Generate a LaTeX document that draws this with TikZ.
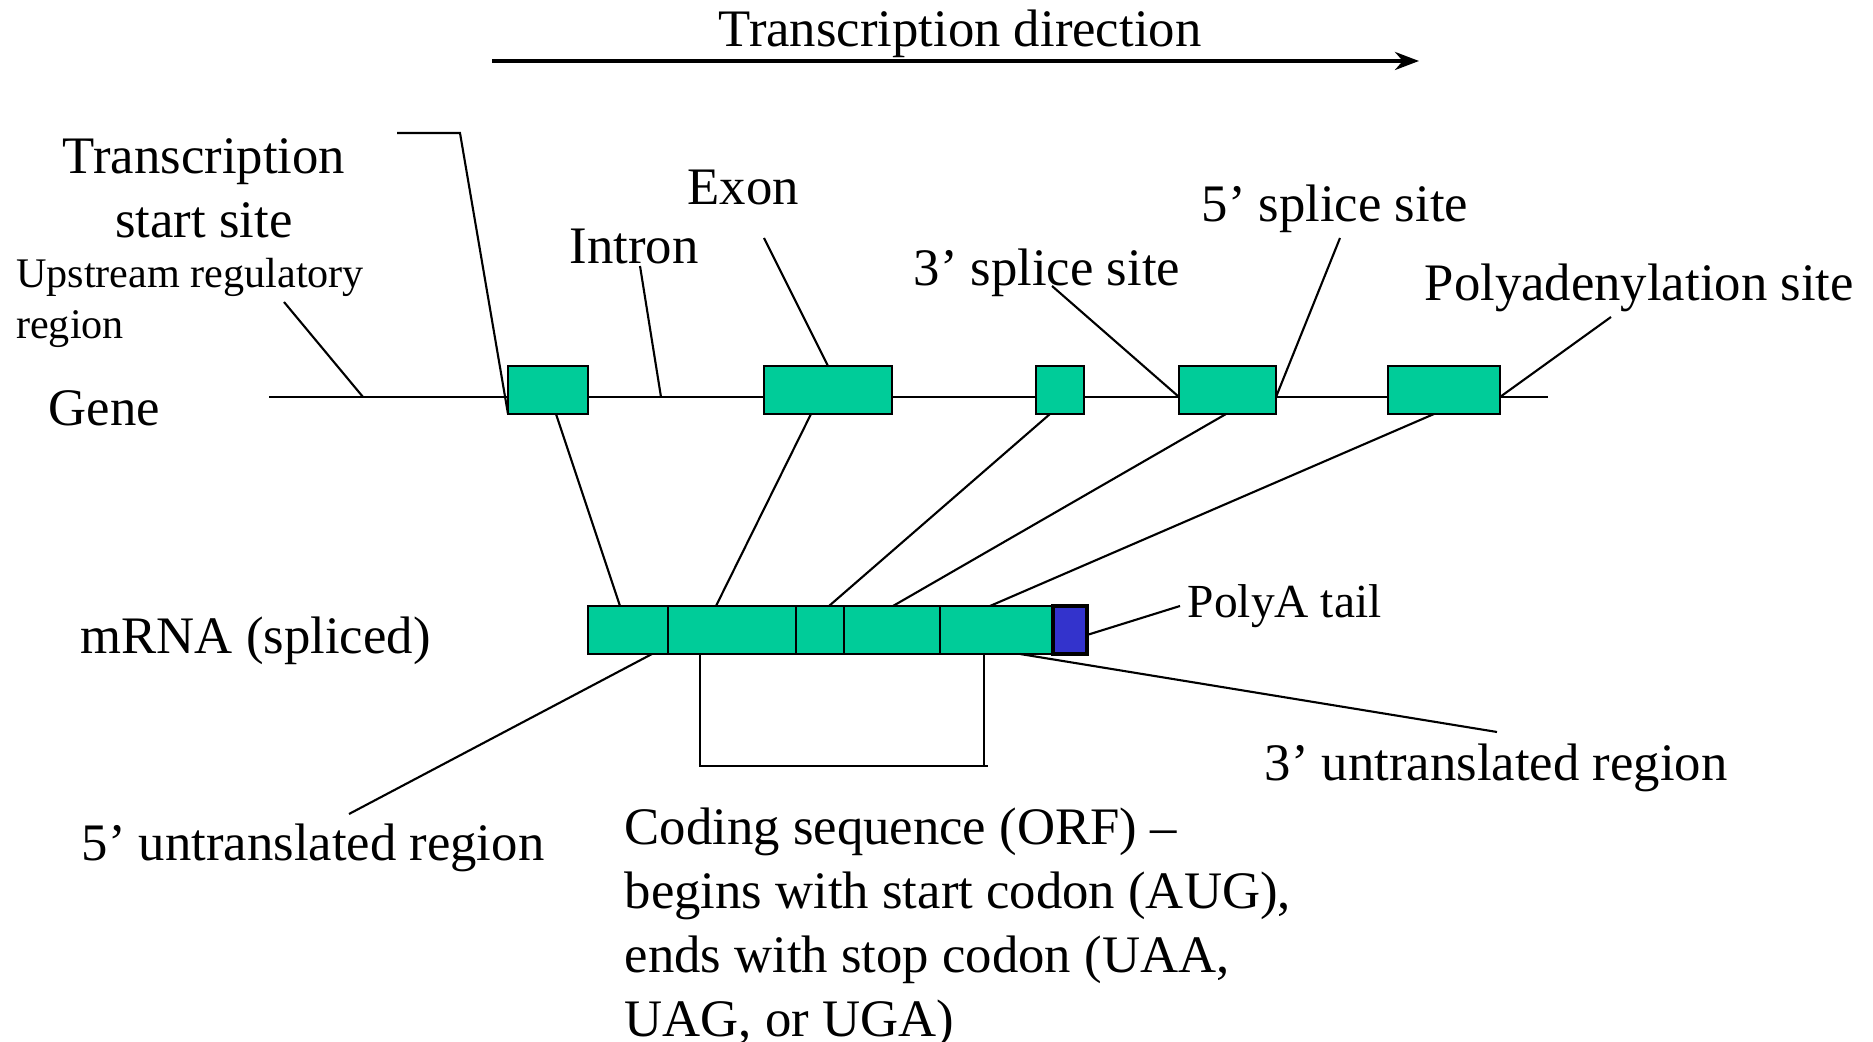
\documentclass[tikz,border=0pt]{standalone}
\usepackage{fontspec}
\setmainfont{Liberation Serif}
\usetikzlibrary{arrows.meta}
\definecolor{exongreen}{RGB}{0,204,153}
\definecolor{tailblue}{RGB}{51,51,204}
\tikzset{
  exonbox/.style={draw, fill=exongreen, line width=0.8pt, minimum height=0.48cm, inner sep=0pt, outer sep=0pt, anchor=south west},
  lbl/.style={inner sep=0pt, anchor=base west, font=\fontsize{15}{18}\selectfont},
  lead/.style={line width=0.6pt}
}
\begin{document}
\begin{tikzpicture}
\useasboundingbox (0,0) rectangle (18.73,10.42);

% Transcription direction arrow
\node[lbl, anchor=base] (dirtext) at (9.60, 9.955) {Transcription direction};
\coordinate (dirstart) at (4.92, 9.81);
\coordinate (dirend) at (14.19, 9.81);
\draw[line width=1.1pt, -{Stealth[length=2.4mm, width=1.8mm]}] (dirstart) -- (dirend);

% Gene line with the exons
\coordinate (gstart) at (2.69, 6.45);
\coordinate (gend) at (15.48, 6.45);
\draw[line width=0.8pt] (gstart) -- (gend);
\node[exonbox, minimum width=0.80cm] (g1) at (5.08, 6.28) {};
\node[exonbox, minimum width=1.28cm] (g2) at (7.64, 6.28) {};
\node[exonbox, minimum width=0.48cm] (g3) at (10.36, 6.28) {};
\node[exonbox, minimum width=0.97cm] (g4) at (11.79, 6.28) {};
\node[exonbox, minimum width=1.12cm] (g5) at (13.88, 6.28) {};

% Spliced mRNA
\node[exonbox, minimum width=0.80cm] (m1) at (5.88, 3.88) {};
\node[exonbox, minimum width=1.28cm] (m2) at (m1.south east) {};
\node[exonbox, minimum width=0.48cm] (m3) at (m2.south east) {};
\node[exonbox, minimum width=0.96cm] (m4) at (m3.south east) {};
\node[exonbox, minimum width=1.12cm] (m5) at (m4.south east) {};
\node[exonbox, fill=tailblue, line width=1pt, minimum width=0.34cm] (tail) at ([xshift=0.01cm]m5.south east) {};

% Exons to mRNA
\draw[lead] ([xshift=0.48cm]g1.south west) -- ([xshift=0.32cm]m1.north west);
\draw[lead] ([xshift=0.47cm]g2.south west) -- ([xshift=0.48cm]m2.north west);
\draw[lead] ([xshift=0.14cm]g3.south west) -- ([xshift=0.33cm]m3.north west);
\draw[lead] ([xshift=0.47cm]g4.south west) -- ([xshift=0.49cm]m4.north west);
\draw[lead] ([xshift=0.46cm]g5.south west) -- ([xshift=0.50cm]m5.north west);

% Labels of the gene
\node[lbl] (genelbl) at (0.48, 6.165) {Gene};
\node[lbl, font=\fontsize{12}{14}\selectfont] (up1) at (0.155, 7.545) {Upstream regulatory};
\node[lbl, font=\fontsize{12}{14}\selectfont] (up2) at (0.155, 7.035) {region};
\coordinate (uppt) at (2.84, 7.40);
\coordinate (upend) at (3.63, 6.45);
\draw[lead] (uppt) -- (upend);
\node[lbl, anchor=base] (tss1) at (2.04, 8.685) {Transcription};
\node[lbl, anchor=base] (tss2) at (2.04, 8.045) {start site};
\coordinate (tsspt) at (3.97, 9.09);
\draw[lead] (tsspt) -- ++(0.63, 0) -- (g1.south west);
\node[lbl] (intronlbl) at (5.69, 7.785) {Intron};
\coordinate (intronpt) at (6.40, 7.76);
\coordinate (intronend) at (6.61, 6.45);
\draw[lead] (intronpt) -- (intronend);
\node[lbl] (exonlbl) at (6.87, 8.375) {Exon};
\coordinate (exonpt) at (7.64, 8.04);
\draw[lead] (exonpt) -- (g2.north);
\node[lbl] (ss3lbl) at (9.13, 7.565) {3’ splice site};
\coordinate (ss3pt) at (10.52, 7.56);
\draw[lead] (ss3pt) -- ([yshift=0.17cm]g4.south west);
\node[lbl] (ss5lbl) at (12.01, 8.205) {5’ splice site};
\coordinate (ss5pt) at (13.40, 8.04);
\draw[lead] (ss5pt) -- ([yshift=0.17cm]g4.south east);
\node[lbl] (polylbl) at (14.24, 7.415) {Polyadenylation site};
\coordinate (polypt) at (16.11, 7.25);
\draw[lead] (polypt) -- ([yshift=0.17cm]g5.south east);

% Labels of the mRNA
\node[lbl] (mrnalbl) at (0.80, 3.885) {mRNA (spliced)};
\node[lbl, font=\fontsize{13.5}{16}\selectfont] (taillbl) at (11.87, 4.245) {PolyA tail};
\coordinate (tailpt) at (11.80, 4.36);
\draw[lead] ([yshift=-0.05cm]tail.east) -- (tailpt);
\node[lbl] (utr3lbl) at (12.64, 2.615) {3’ untranslated region};
\coordinate (utr3pt) at (14.97, 3.10);
\draw[lead] ([xshift=0.80cm]m5.south west) -- (utr3pt);
\node[lbl] (utr5lbl) at (0.81, 1.815) {5’ untranslated region};
\coordinate (utr5pt) at (3.49, 2.28);
\draw[lead] ([xshift=0.64cm]m1.south west) -- (utr5pt);

% Coding sequence bracket
\draw[lead] ([xshift=0.32cm]m2.south west) -- ++(0, -1.12) -- ++(2.88, 0);
\draw[lead] ([xshift=0.44cm]m5.south west) -- ++(0, -1.12);
\node[lbl] (cds1) at (6.24, 1.975) {Coding sequence (ORF) –};
\node[lbl] (cds2) at (6.24, 1.33) {begins with start codon (AUG),};
\node[lbl] (cds3) at (6.24, 0.695) {ends with stop codon (UAA,};
\node[lbl] (cds4) at (6.24, 0.055) {UAG, or UGA)};
\end{tikzpicture}
\end{document}
